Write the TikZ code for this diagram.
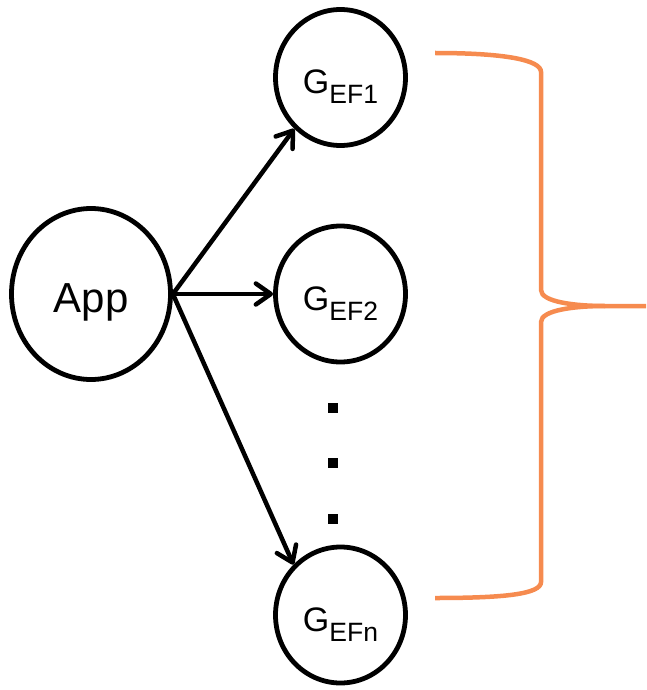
\documentclass[tikz,border=0pt]{standalone}
\usepackage{fontspec}
\setmainfont{Liberation Sans}
\usetikzlibrary{arrows.meta,shapes.geometric}
\definecolor{braceorange}{RGB}{246,139,79}
\newcommand{\gsub}[1]{\raisebox{0pt}[32pt][0pt]{\fontsize{34}{34}\selectfont G\raisebox{-10pt}{\fontsize{26.5}{26.5}\selectfont #1}}}
\begin{document}
\begin{tikzpicture}[x=1pt,y=-1pt,
  vertex/.style={draw=black,line width=4.8pt,ellipse,inner sep=0pt,
    minimum width=130pt,minimum height=136pt},
  appvertex/.style={vertex,minimum width=159pt,minimum height=171pt},
  link/.style={line width=4.5pt,line cap=round,
    -{Straight Barb[length=15pt,width=21pt,line join=round,line cap=round]}},
  ellipsisdot/.style={fill=black,inner sep=0pt,minimum size=10pt,rectangle},
  bracket/.style={draw=braceorange,line width=4.5pt}]
\useasboundingbox (0,0) rectangle (646,690);

% nodes
\node[appvertex] (app) at (91,294) {\raisebox{0pt}[36pt][0pt]{\fontsize{42}{42}\selectfont App}};
\node[vertex] (g1) at (340.5,77.5) {\gsub{EF1}};
\node[vertex] (g2) at (340.5,294) {\gsub{EF2}};
\node[vertex] (gn) at (340.5,615) {\gsub{EFn}};

% vertical ellipsis
\node[ellipsisdot] (d1) at (333,408) {};
\node[ellipsisdot] (d2) at (333,463) {};
\node[ellipsisdot] (d3) at (333,519) {};

% connectors
\draw[link] (app.east) -- (g1.228);
\draw[link] (app.east) -- (g2.west);
\draw[link] (app.east) -- (gn.133);

% curly brace grouping the G nodes
\coordinate (btop) at (435,53);
\coordinate (bbot) at (435,598);
\coordinate (btip) at (646,306);
\draw[bracket] (btop) .. controls (505,53) and (541,60) .. (541,72)
  -- (541,290) .. controls (541,302) and (575,306) .. (605,306) -- (btip);
\draw[bracket] (605,306) .. controls (575,306) and (541,310) .. (541,322)
  -- (541,582) .. controls (541,594) and (505,598) .. (bbot);
\end{tikzpicture}
\end{document}
